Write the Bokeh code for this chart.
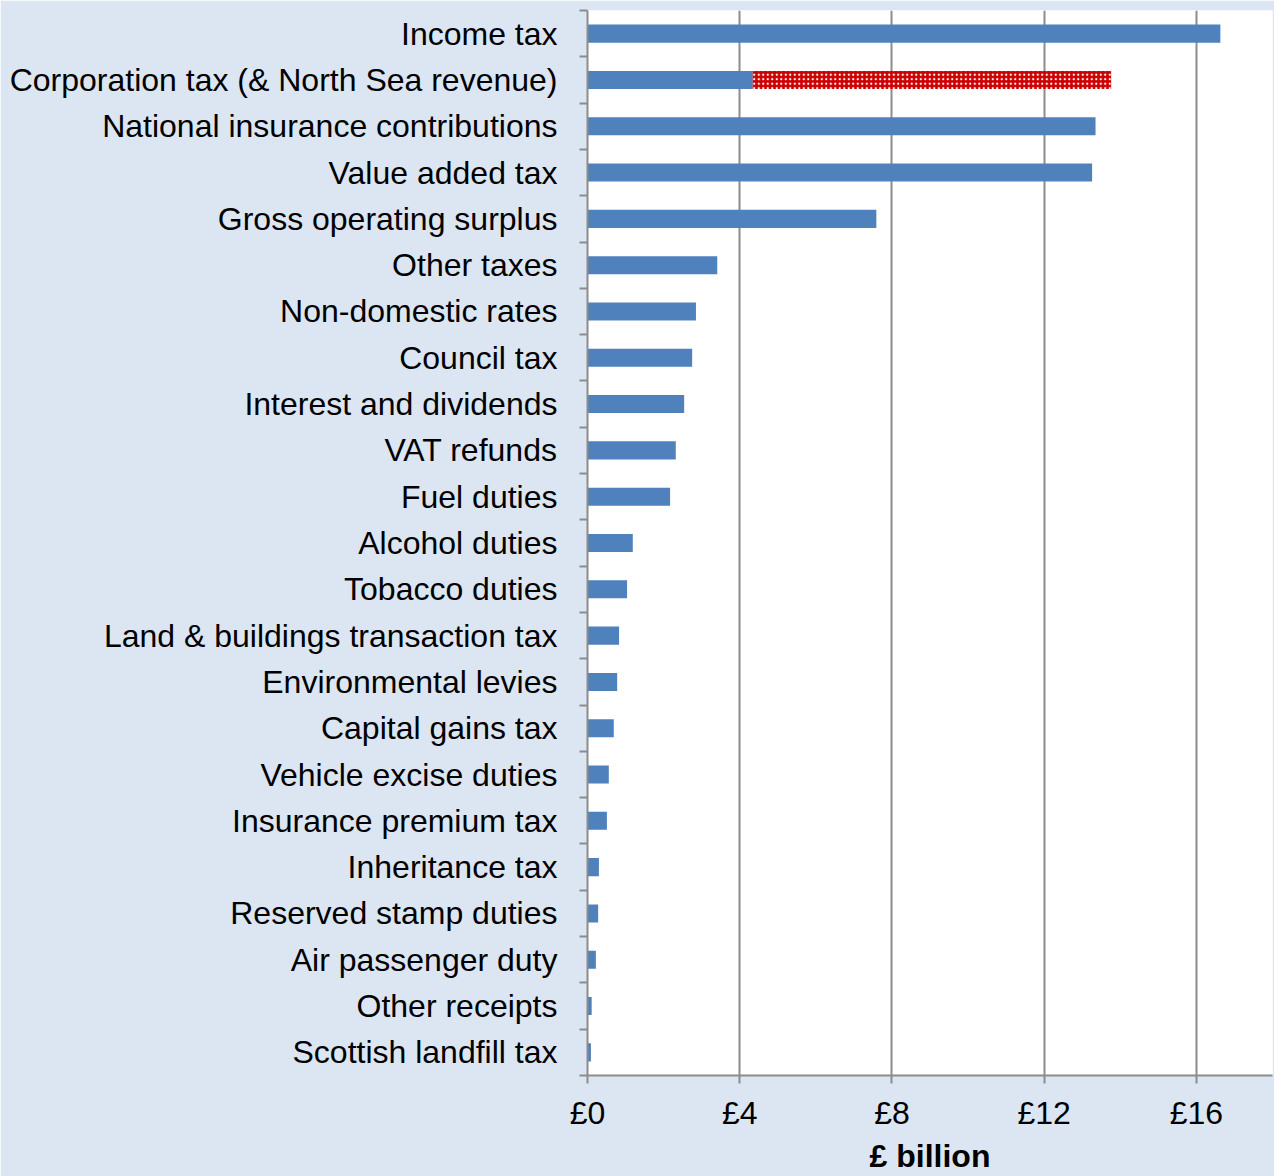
from bokeh.plotting import figure
from bokeh.models import Range1d, FixedTicker
from bokeh.embed import file_html
from bokeh.resources import INLINE

categories = [
    "Income tax",
    "Corporation tax (& North Sea revenue)",
    "National insurance contributions",
    "Value added tax",
    "Gross operating surplus",
    "Other taxes",
    "Non-domestic rates",
    "Council tax",
    "Interest and dividends",
    "VAT refunds",
    "Fuel duties",
    "Alcohol duties",
    "Tobacco duties",
    "Land & buildings transaction tax",
    "Environmental levies",
    "Capital gains tax",
    "Vehicle excise duties",
    "Insurance premium tax",
    "Inheritance tax",
    "Reserved stamp duties",
    "Air passenger duty",
    "Other receipts",
    "Scottish landfill tax",
]
values = [16.63, 4.34, 13.35, 13.26, 7.59, 3.41, 2.85, 2.75, 2.54, 2.32, 2.17,
          1.19, 1.04, 0.83, 0.78, 0.69, 0.56, 0.51, 0.30, 0.28, 0.22, 0.11, 0.09]
north_sea_category = "Corporation tax (& North Sea revenue)"
north_sea_value = 9.42
x_ticks = [0, 4, 8, 12, 16]
x_tick_labels = ["£0", "£4", "£8", "£12", "£16"]

BG = "#dce6f2"
BLUE = "#4f81bd"
RED = "#cc0000"
GREY = "#8c8c8c"
FONT = "Liberation Sans"
FS = "32px"

n = len(categories)
centers = [i + 0.5 for i in range(n)]

p = figure(width=1274, height=1176, output_backend="svg", toolbar_location=None,
           x_range=Range1d(0, 18), y_range=Range1d(n, 0),
           min_border_left=587, min_border_right=2, min_border_top=10, min_border_bottom=101)
p.background_fill_color = "white"
p.border_fill_color = BG
p.outline_line_color = None

p.hbar(y=centers, left=0, right=values, height=0.39, fill_color=BLUE, line_color=None)
ns_idx = categories.index(north_sea_category)
p.hbar(y=[centers[ns_idx]], left=[values[ns_idx]], right=[values[ns_idx] + north_sea_value],
       height=0.39, fill_color=RED, line_color=None,
       hatch_pattern="dot", hatch_color="white", hatch_scale=4.5, hatch_weight=1.6)

# x axis
xa = p.xaxis[0]
xa.ticker = FixedTicker(ticks=x_ticks)
xa.major_label_overrides = {t: l for t, l in zip(x_ticks, x_tick_labels)}
xa.axis_line_color = GREY
xa.axis_line_width = 2
xa.major_tick_line_color = GREY
xa.major_tick_line_width = 2
xa.major_tick_in = 0
xa.major_tick_out = 8
xa.minor_tick_line_color = None
xa.major_label_text_font = FONT
xa.major_label_text_font_size = FS
xa.major_label_text_color = "black"
xa.major_label_standoff = 11
xa.axis_label = "£ billion"
xa.axis_label_text_font = FONT
xa.axis_label_text_font_size = FS
xa.axis_label_text_font_style = "bold"
xa.axis_label_text_color = "black"
xa.axis_label_standoff = 4

# y axis
ya = p.yaxis[0]
ya.ticker = FixedTicker(ticks=centers, minor_ticks=list(range(n + 1)))
ya.major_label_overrides = {c: lab for c, lab in zip(centers, categories)}
ya.axis_line_color = GREY
ya.axis_line_width = 2
ya.major_tick_line_color = None
ya.major_tick_in = 0
ya.major_tick_out = 0
ya.minor_tick_line_color = GREY
ya.minor_tick_line_width = 2
ya.minor_tick_in = 0
ya.minor_tick_out = 8
ya.major_label_text_font = FONT
ya.major_label_text_font_size = FS
ya.major_label_text_color = "black"
ya.major_label_standoff = 22

p.xgrid.ticker = FixedTicker(ticks=[4, 8, 12, 16])
p.xgrid.grid_line_color = GREY
p.xgrid.grid_line_width = 2
p.ygrid.grid_line_color = None

open("out.html", "w").write(file_html(p, INLINE))
